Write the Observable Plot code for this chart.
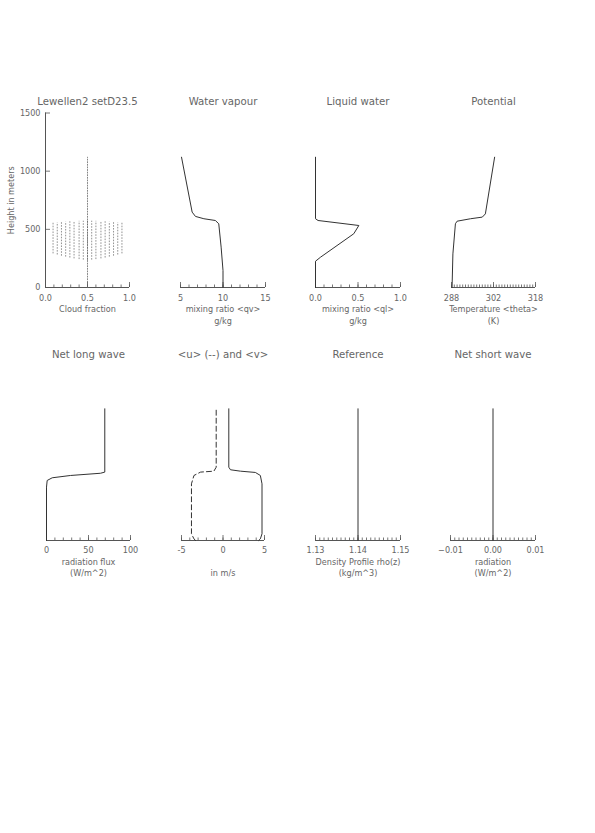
<!DOCTYPE html>
<html><head><meta charset="utf-8">
<script src="https://cdn.jsdelivr.net/npm/d3@7"></script>
<script src="https://cdn.jsdelivr.net/npm/@observablehq/plot@0.6"></script>
<style>
body{margin:0;background:#fff;}
#page{position:relative;width:595px;height:833px;overflow:hidden;background:#fff;}
#page svg{position:absolute;}
</style></head><body><div id="page"></div>
<script>
// ---------- data ----------
const heightTicks = [0, 500, 1000, 1500];

// Cloud fraction: dashed columns of the cloud layer
const cloudX    = [0.09,0.14,0.19,0.24,0.29,0.34,0.40,0.45,0.50,0.55,0.60,0.66,0.71,0.76,0.81,0.86,0.91];
const cloudTop  = [553,556,559,562,565,567,569,570,570,570,569,567,565,562,559,556,553];
const cloudBase = [289,279,269,261,253,246,240,235,233,235,240,246,253,261,269,279,289];
const cloudLineX = [0.5, 0.5];
const cloudLineZ = [0, 1120];

// Water vapour qv (g/kg)
const qvVal = [10.0, 10.0, 9.78, 9.5, 9.1, 7.75, 6.76, 6.37, 5.12];
const qvZ   = [0, 146, 347, 548, 576, 591, 611, 648, 1120];

// Liquid water ql (g/kg)
const qlVal = [0, 0, 0.06, 0.45, 0.51, 0.03, 0, 0];
const qlZ   = [0, 226, 261, 462, 533, 576, 591, 1120];

// Potential temperature theta (K)
const thVal = [288.2, 288.5, 289.4, 290.0, 294.8, 299.0, 300.1, 303.4];
const thZ   = [0, 289, 548, 570, 591, 605, 633, 1120];

// Net long wave (W/m^2)
const lwVal = [0, 0, 0.8, 6.8, 28.6, 64.3, 69.4, 69.4];
const lwZ   = [0, 459, 516, 539, 559, 578, 588, 1132];

// <u> (dashed) and <v> (solid) in m/s
const uVal = [-3.3, -3.5, -3.8, -3.8, -3.5, -2.7, -1.1, -0.82, -0.82];
const uZ   = [0, 14, 58, 487, 559, 588, 596, 630, 1132];
const vVal = [4.3, 4.5, 4.7, 4.7, 4.5, 3.9, 2.1, 0.9, 0.7, 0.7];
const vZ   = [0, 14, 58, 487, 559, 585, 596, 608, 630, 1132];

// Reference density rho(z)
const rhoVal = [1.14, 1.14];
const rhoZ   = [0, 1132];

// Net short wave
const swVal = [0, 0];
const swZ   = [0, 1132];

// axis ticks and labels
const cfTicks = [0, 0.5, 1.0],          cfLabels = ["0.0", "0.5", "1.0"];
const qvTicks = [5, 10, 15],            qvLabels = ["5", "10", "15"];
const qlTicks = [0, 0.5, 1.0],          qlLabels = ["0.0", "0.5", "1.0"];
const thTicks = [288, 303, 318],        thLabels = ["288", "302", "318"];
const lwTicks = [0, 50, 100],           lwLabels = ["0", "50", "100"];
const uvTicks = [-5, 0, 5],             uvLabels = ["-5", "0", "5"];
const rhoTicks = [1.13, 1.14, 1.15],    rhoLabels = ["1.13", "1.14", "1.15"];
const swTicks = [-0.01, 0, 0.01],       swLabels = ["\u22120.01", "0.00", "0.01"];

// ---------- drawing ----------
const FONT = '"Liberation Sans Narrow","DejaVu Sans Condensed","Liberation Sans",sans-serif';
const AXIS = "#555", LINE = "#333", TEXT = "#666";
const page = document.getElementById("page");
const pts = (xs, zs) => zs.map((z, i) => ({x: xs[i], y: z}));

function panel(p) {
  const ml = p.yAxis ? 45 : 25, mr = 25, mt = 22.5, mb = 43, H = 240;
  const innerW = p.px1 - p.px0, innerH = H - mt - mb;
  const labelMap = new Map(p.ticks.map((t, i) => [t, p.labels[i]]));
  const minor = d3.range(Math.round((p.dom[1] - p.dom[0]) / p.minorStep) + 1).map(i => p.dom[0] + i * p.minorStep);
  const txt = {lineAnchor: "middle", textAnchor: "middle", fill: TEXT};
  const marks = [
    Plot.ruleY([0], {stroke: AXIS, strokeWidth: 1}),
    Plot.tickX(minor, {x: d => d, insetTop: innerH - 2.5, stroke: AXIS, strokeWidth: 0.8}),
    Plot.tickX(p.ticks, {x: d => d, insetTop: innerH - 5, stroke: AXIS, strokeWidth: 0.8}),
    Plot.axisX({anchor: "bottom", ticks: p.ticks, tickSize: 0, tickPadding: p.tickPad, tickFormat: d => labelMap.get(d), label: null, fontSize: 9}),
    Plot.text([p.title], {frameAnchor: "top", dy: -11.5, fontSize: 11.3, ...txt}),
    Plot.text([p.xl1], {frameAnchor: "bottom", dy: p.xl1dy, fontSize: 9, ...txt}),
    Plot.text([p.xl2], {frameAnchor: "bottom", dy: p.xl2dy, fontSize: 9, ...txt}),
    ...p.marks
  ];
  if (p.yAxis) {
    marks.push(
      Plot.ruleX([p.dom[0]], {stroke: AXIS, strokeWidth: 1}),
      Plot.tickY(heightTicks, {y: d => d, insetRight: innerW - 5, stroke: AXIS, strokeWidth: 0.8}),
      Plot.axisY({anchor: "left", ticks: heightTicks, tickSize: 0, tickPadding: 5, tickFormat: d => String(d), label: null, fontSize: 9}),
      Plot.text(["Height in meters"], {frameAnchor: "left", dx: -34, rotate: -90, fontSize: 9, ...txt})
    );
  }
  const svg = Plot.plot({
    width: ml + innerW + mr, height: H,
    marginLeft: ml, marginRight: mr, marginTop: mt, marginBottom: mb,
    x: {domain: p.dom},
    y: {domain: [0, 1500], axis: p.yAxis ? undefined : null},
    style: {background: "transparent", overflow: "visible", fontFamily: FONT, fontSize: "9px", color: TEXT},
    marks
  });
  svg.style.left = (p.px0 - ml) + "px";
  svg.style.top = p.top + "px";
  page.appendChild(svg);
}

const TOP1 = {top: 90, tickPad: 7, xl1dy: 22, xl2dy: 33.5};
const TOP2 = {top: 343, tickPad: 6.5, xl1dy: 21.5, xl2dy: 32.5};

panel({...TOP1, px0: 45, px1: 129, dom: [0, 1], minorStep: 0.1, ticks: cfTicks, labels: cfLabels, yAxis: true,
  title: "Lewellen2 setD23.5", xl1: "Cloud fraction", xl2: "",
  marks: [
    Plot.ruleX(cloudX.map((x, i) => ({x, y1: cloudBase[i], y2: cloudTop[i]})), {x: "x", y1: "y1", y2: "y2", stroke: "#777", strokeWidth: 0.8, strokeDasharray: "1.6,1.3"}),
    Plot.line(pts(cloudLineX, cloudLineZ), {x: "x", y: "y", stroke: "#666", strokeWidth: 0.8, strokeDasharray: "1,1.6"})
  ]});

panel({...TOP1, px0: 180, px1: 265, dom: [5, 15], minorStep: 1, ticks: qvTicks, labels: qvLabels,
  title: "Water vapour", xl1: "mixing ratio <qv>", xl2: "g/kg",
  marks: [Plot.line(pts(qvVal, qvZ), {x: "x", y: "y", stroke: LINE, strokeWidth: 1})]});

panel({...TOP1, px0: 315, px1: 400, dom: [0, 1], minorStep: 0.1, ticks: qlTicks, labels: qlLabels,
  title: "Liquid water", xl1: "mixing ratio <ql>", xl2: "g/kg",
  marks: [Plot.line(pts(qlVal, qlZ), {x: "x", y: "y", stroke: LINE, strokeWidth: 1})]});

panel({...TOP1, px0: 451, px1: 535, dom: [288, 318], minorStep: 1, ticks: thTicks, labels: thLabels,
  title: "Potential", xl1: "Temperature <theta>", xl2: "(K)",
  marks: [Plot.line(pts(thVal, thZ), {x: "x", y: "y", stroke: LINE, strokeWidth: 1})]});

panel({...TOP2, px0: 46, px1: 130, dom: [0, 100], minorStep: 10, ticks: lwTicks, labels: lwLabels,
  title: "Net long wave", xl1: "radiation flux", xl2: "(W/m^2)",
  marks: [Plot.line(pts(lwVal, lwZ), {x: "x", y: "y", stroke: LINE, strokeWidth: 1})]});

panel({...TOP2, px0: 181, px1: 264, dom: [-5, 5], minorStep: 1, ticks: uvTicks, labels: uvLabels,
  title: "<u> (--) and <v>", xl1: "", xl2: "in m/s",
  marks: [
    Plot.line(pts(uVal, uZ), {x: "x", y: "y", stroke: LINE, strokeWidth: 1, strokeDasharray: "5,3"}),
    Plot.line(pts(vVal, vZ), {x: "x", y: "y", stroke: LINE, strokeWidth: 1})
  ]});

panel({...TOP2, px0: 315, px1: 400, dom: [1.13, 1.15], minorStep: 0.001, ticks: rhoTicks, labels: rhoLabels,
  title: "Reference", xl1: "Density Profile rho(z)", xl2: "(kg/m^3)",
  marks: [Plot.line(pts(rhoVal, rhoZ), {x: "x", y: "y", stroke: LINE, strokeWidth: 1})]});

panel({...TOP2, px0: 450, px1: 535, dom: [-0.01, 0.01], minorStep: 0.001, ticks: swTicks, labels: swLabels,
  title: "Net short wave", xl1: "radiation", xl2: "(W/m^2)",
  marks: [Plot.line(pts(swVal, swZ), {x: "x", y: "y", stroke: LINE, strokeWidth: 1})]});
</script>
</body></html>
